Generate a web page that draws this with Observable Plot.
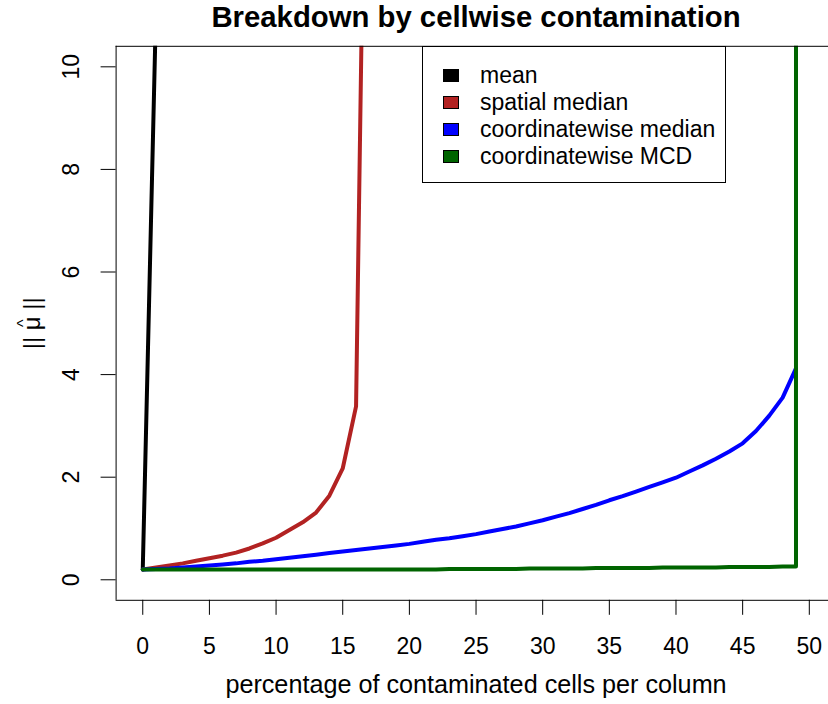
<!DOCTYPE html>
<html>
<head>
<meta charset="utf-8">
<script src="https://cdn.jsdelivr.net/npm/d3@7"></script>
<script src="https://cdn.jsdelivr.net/npm/@observablehq/plot@0.6"></script>
<style>
html,body{margin:0;padding:0;background:#fff;}
#wrap{position:relative;width:828px;height:704px;overflow:hidden;font-family:"Liberation Sans",Arial,Helvetica,sans-serif;color:#000;}
#legend{position:absolute;left:422px;top:46px;width:304px;height:137px;border:1px solid #000;background:#fff;box-sizing:border-box;}
.item{position:absolute;left:0;height:27px;display:flex;align-items:center;font-size:23px;white-space:nowrap;}
.sw{width:16px;height:13px;border:1px solid #000;box-sizing:border-box;margin-left:20px;margin-right:21px;flex:none;}
</style>
</head>
<body>
<div id="wrap"><div id="chart"></div><div id="legend"></div></div>
<script>
const titleText = "Breakdown by cellwise contamination";
const xLabel = "percentage of contaminated cells per column";
const yLabel = "|| \u03BC ||";
const yLabelHat = "^";

const seriesNames = ["mean", "spatial median", "coordinatewise median", "coordinatewise MCD"];
const seriesColors = ["#000000", "#B22222", "#0000FF", "#006400"];

const xTicks = [0, 5, 10, 15, 20, 25, 30, 35, 40, 45, 50];
const yTicks = [0, 2, 4, 6, 8, 10];
const xDomain = [-2, 51.44];
const yDomain = [-0.4, 10.4];

// mean
const meanX = [0, 1];
const meanY = [0.2, 11.2];

// spatial median
const spatialX = [0, 1, 2, 3, 4, 5, 6, 7, 8, 9, 10, 11, 12, 13, 14, 15, 16, 17];
const spatialY = [0.20, 0.24, 0.28, 0.32, 0.37, 0.42, 0.47, 0.53, 0.61, 0.71, 0.82, 0.97, 1.12, 1.31, 1.64, 2.17, 3.38, 21.0];

// coordinatewise median
const coordMedX = [0, 1, 2, 3, 4, 5, 6, 7, 8, 9, 10, 11, 12, 13, 14, 15, 16, 17, 18, 19,
  20, 21, 22, 23, 24, 25, 26, 27, 28, 29, 30, 31, 32, 33, 34, 35, 36, 37, 38, 39,
  40, 41, 42, 43, 44, 45, 46, 47, 48, 49];
const coordMedY = [0.20, 0.21, 0.22, 0.24, 0.26, 0.28, 0.30, 0.32, 0.35, 0.37,
  0.40, 0.43, 0.46, 0.49, 0.52, 0.55, 0.58, 0.61, 0.64, 0.67,
  0.70, 0.74, 0.78, 0.81, 0.85, 0.89, 0.94, 0.99, 1.04, 1.10,
  1.16, 1.23, 1.30, 1.38, 1.46, 1.55, 1.63, 1.72, 1.81, 1.90,
  1.99, 2.11, 2.23, 2.36, 2.50, 2.66, 2.90, 3.20, 3.55, 4.12];

// coordinatewise MCD
const mcdX = [0, 1, 2, 3, 4, 5, 6, 7, 8, 9, 10, 11, 12, 13, 14, 15, 16, 17, 18, 19,
  20, 21, 22, 23, 24, 25, 26, 27, 28, 29, 30, 31, 32, 33, 34, 35, 36, 37, 38, 39,
  40, 41, 42, 43, 44, 45, 46, 47, 48, 49, 50];
const mcdY = [0.20, 0.20, 0.20, 0.20, 0.20, 0.20, 0.20, 0.20, 0.20, 0.20,
  0.20, 0.20, 0.20, 0.20, 0.20, 0.20, 0.20, 0.20, 0.20, 0.20,
  0.20, 0.20, 0.20, 0.21, 0.21, 0.21, 0.21, 0.21, 0.21, 0.22,
  0.22, 0.22, 0.22, 0.22, 0.23, 0.23, 0.23, 0.23, 0.23, 0.24,
  0.24, 0.24, 0.24, 0.24, 0.25, 0.25, 0.25, 0.25, 0.26, 0.26, 5000];

const seriesX = [meanX, spatialX, coordMedX, mcdX];
const seriesY = [meanY, spatialY, coordMedY, mcdY];

const rows = [];
seriesNames.forEach((name, i) => {
  seriesX[i].forEach((x, j) => rows.push({series: name, x, y: seriesY[i][j]}));
});

const font = '"Liberation Sans", Arial, Helvetica, sans-serif';

const chart = Plot.plot({
  width: 828,
  height: 704,
  marginLeft: 115.6,
  marginRight: 0,
  marginTop: 45.8,
  marginBottom: 104.2,
  style: {fontFamily: font, background: "white", color: "black", overflow: "visible"},
  x: {domain: xDomain},
  y: {domain: yDomain},
  color: {domain: seriesNames, range: seriesColors},
  marks: [
    Plot.line(rows, {x: "x", y: "y", z: "series", stroke: "series", strokeWidth: 4,
      strokeLinejoin: "round", strokeLinecap: "round", clip: true}),
    Plot.ruleY([yDomain[0], yDomain[1]], {stroke: "black", strokeWidth: 1}),
    Plot.ruleX([xDomain[0]], {stroke: "black", strokeWidth: 1}),
    Plot.axisX({ticks: xTicks, tickSize: 15, tickPadding: 22, fontSize: 23, label: null, stroke: "black"}),
    Plot.axisY({ticks: yTicks, tickSize: 15, tickFormat: () => "", label: null, stroke: "black"}),
    Plot.text(yTicks, {y: d => d, text: d => String(d), frameAnchor: "left", dx: -44.6,
      rotate: -90, fontSize: 23, textAnchor: "middle", lineAnchor: "middle", fill: "black"}),
    Plot.text([titleText], {text: d => d, frameAnchor: "top", dx: 3.7, dy: -28.8,
      fontSize: 29.3, fontWeight: "bold", lineAnchor: "middle", fill: "black"}),
    Plot.text([xLabel], {text: d => d, frameAnchor: "bottom", dx: 3.7, dy: 84.5,
      fontSize: 25.2, lineAnchor: "middle", fill: "black"}),
    Plot.text([yLabel], {text: d => d, frameAnchor: "left", dx: -83.6, rotate: -90,
      fontSize: 24, textAnchor: "middle", lineAnchor: "middle", fill: "black"}),
    Plot.text([yLabelHat], {text: d => d, frameAnchor: "left", dx: -92, dy: 0, rotate: -90,
      fontSize: 16, textAnchor: "middle", lineAnchor: "middle", fill: "black"})
  ]
});
document.getElementById("chart").appendChild(chart);

const legend = document.getElementById("legend");
const rowCenters = [28, 55, 82, 109];
seriesNames.forEach((name, i) => {
  const item = document.createElement("div");
  item.className = "item";
  item.style.top = (rowCenters[i] - 13.5) + "px";
  const sw = document.createElement("span");
  sw.className = "sw";
  sw.style.background = seriesColors[i];
  const label = document.createElement("span");
  label.textContent = name;
  item.appendChild(sw);
  item.appendChild(label);
  legend.appendChild(item);
});
</script>
</body>
</html>
